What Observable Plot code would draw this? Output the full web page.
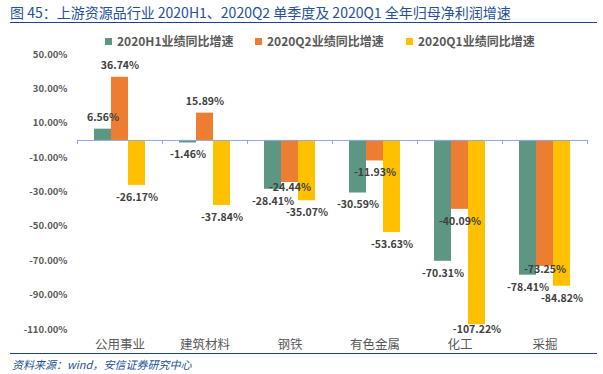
<!DOCTYPE html>
<html>
<head>
<meta charset="utf-8">
<script src="https://cdn.jsdelivr.net/npm/d3@7"></script>
<script src="https://cdn.jsdelivr.net/npm/@observablehq/plot@0.6"></script>
<style>
  html, body { margin: 0; padding: 0; background: #fff; }
  #wrap { position: relative; width: 603px; height: 374px; overflow: hidden; font-family: "Noto Sans CJK SC", "Liberation Sans", sans-serif; }
  #chart { position: absolute; left: 0; top: 0; }
  .title { position: absolute; left: 10px; top: 3px; font-size: 14px; color: #24509a; white-space: nowrap; line-height: 18px; }
  .rule { position: absolute; left: 10px; width: 587px; height: 0; border-top: 1.5px solid #1f3f8f; }
  .legend { position: absolute; top: 32px; left: 0; width: 603px; height: 18px; }
  .legend .item { position: absolute; top: 0; display: flex; align-items: center; font-size: 12px; font-weight: bold; color: #595959; white-space: nowrap; line-height: 18px; }
  .legend .sw { width: 7px; height: 7px; margin-right: 5px; }
  .source { position: absolute; left: 12px; top: 356px; font-size: 11px; font-style: italic; color: #24509a; white-space: nowrap; line-height: 16px; }
</style>
</head>
<body>
<div id="wrap">
  <div class="title">图 45：上游资源品行业 2020H1、2020Q2 单季度及 2020Q1 全年归母净利润增速</div>
  <div class="rule" style="top:22px"></div>
  <div class="legend" id="legend"></div>
  <div id="chart"></div>
  <div class="rule" style="top:353px"></div>
  <div class="source">资料来源：wind，安信证券研究中心</div>
</div>
<script>
const categories = ["公用事业", "建筑材料", "钢铁", "有色金属", "化工", "采掘"];
const seriesNames = ["2020H1业绩同比增速", "2020Q2业绩同比增速", "2020Q1业绩同比增速"];
const h1Values = [6.56, -1.46, -28.41, -30.59, -70.31, -78.41];
const q2Values = [36.74, 15.89, -24.44, -11.93, -40.09, -73.25];
const q1Values = [-26.17, -37.84, -35.07, -53.63, -107.22, -84.82];
const yTicks = [50, 30, 10, -10, -30, -50, -70, -90, -110];

const colors = ["#5d9683", "#ed7d31", "#ffc000"];
const seriesValues = [h1Values, q2Values, q1Values];
const rows = [];
seriesValues.forEach((vals, si) => vals.forEach((v, ci) => rows.push({cat: categories[ci], si, series: seriesNames[si], value: v})));

// legend
const legend = document.getElementById("legend");
const legendLeft = [105, 255, 406];
seriesNames.forEach((name, i) => {
  const it = document.createElement("div");
  it.className = "item";
  it.style.left = legendLeft[i] + "px";
  it.innerHTML = `<span class="sw" style="background:${colors[i]}"></span><span>${name}</span>`;
  legend.appendChild(it);
});

const W = 603, H = 374, mL = 77, mR = 16, mT = 54, mB = 45;
const bw = (W - mL - mR) / categories.length;
const step = bw / 5;

// label nudges (px below bar end) for labels Excel placed closer to the bar
const nudge = {"钢铁|1": 5, "采掘|1": 3, "化工|2": 5};
const fmt = v => v.toFixed(2) + "%";

const marks = [];
seriesNames.forEach((name, si) => {
  const d = rows.filter(r => r.si === si);
  marks.push(Plot.barY(d, {x: "cat", y: "value", fill: colors[si], insetLeft: step * (si + 1), insetRight: step * (3 - si)}));
});
marks.push(Plot.ruleY([0], {stroke: "#8eaadb", strokeWidth: 1}));
marks.push(Plot.ruleX(categories, {x: d => d, y1: 0, y2: -2.3, dx: -bw / 2, stroke: "#8eaadb"}));
marks.push(Plot.ruleX([categories[categories.length - 1]], {x: d => d, y1: 0, y2: -2.3, dx: bw / 2, stroke: "#8eaadb"}));
seriesNames.forEach((name, si) => {
  const d = rows.filter(r => r.si === si);
  const common = {x: "cat", y: "value", text: r => fmt(r.value), dx: step * (si - 1), fill: "#404040", fontSize: 10.5, fontWeight: "bold"};
  marks.push(Plot.text(d.filter(r => r.value >= 0), {...common, dy: -12}));
  marks.push(Plot.text(d.filter(r => r.value < 0 && !((r.cat + "|" + si) in nudge)), {...common, dy: 12}));
  for (const key of Object.keys(nudge)) {
    const [c, s] = key.split("|");
    if (+s !== si) continue;
    marks.push(Plot.text(d.filter(r => r.cat === c), {...common, dy: nudge[key]}));
  }
});

const plot = Plot.plot({
  width: W, height: H,
  marginLeft: mL, marginRight: mR, marginTop: mT, marginBottom: mB,
  style: {fontFamily: "'Noto Sans CJK SC', 'Liberation Sans', sans-serif", background: "transparent", overflow: "visible"},
  x: {domain: categories, padding: 0, label: null, tickSize: 0, tickPadding: 11},
  y: {domain: [-110, 50], ticks: yTicks, tickFormat: fmt, label: null, tickSize: 0, tickPadding: 10},
  marks: [
    Plot.axisX({tickSize: 0, tickPadding: 11, fontSize: 12.5, fill: "#595959", label: null}),
    Plot.axisY({ticks: yTicks, tickFormat: fmt, tickSize: 0, tickPadding: 10, fontSize: 9.5, fontWeight: "bold", fill: "#595959", label: null}),
    ...marks
  ]
});
document.getElementById("chart").appendChild(plot);
</script>
</body>
</html>
